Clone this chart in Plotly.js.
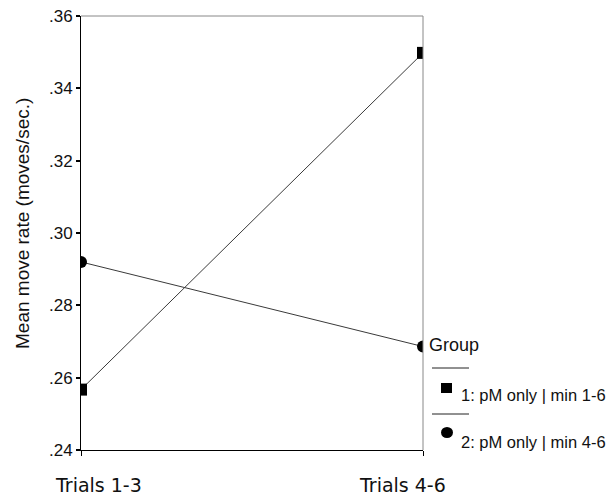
<!DOCTYPE html>
<html>
<head>
<meta charset="utf-8">
<script src="https://cdn.plot.ly/plotly-3.0.1.min.js"></script>
<style>html,body{margin:0;padding:0;background:#fff;}#chart{width:610px;height:495px;}</style>
</head>
<body>
<div id="chart"></div>
<script>
// ---- data ----
var categories = ["Trials 1-3", "Trials 4-6"];
var group1 = [0.2567, 0.3498];   // 1: pM only | min 1-6
var group2 = [0.2920, 0.2686];   // 2: pM only | min 4-6
var groupNames = ["1: pM only | min 1-6", "2: pM only | min 4-6"];
var yTickVals = [0.24, 0.26, 0.28, 0.30, 0.32, 0.34, 0.36];
var yTickText = [".24", ".26", ".28", ".30", ".32", ".34", ".36"];
var yTitle = "Mean move rate (moves/sec.)";
var legendTitle = "Group";

// ---- layout helpers (pixel -> paper) ----
var L = 81, R = 423, T = 16, B = 450;
function px(X) { return (X - L) / (R - L); }
function py(Y) { return (B - Y) / (B - T); }

var traces = [
  {x: categories, y: group1, type: "scatter", mode: "lines+markers", name: groupNames[0],
   line: {color: "#3a3a3a", width: 1}, marker: {symbol: "square", size: 12, color: "#000"}},
  {x: categories, y: group2, type: "scatter", mode: "lines+markers", name: groupNames[1],
   line: {color: "#3a3a3a", width: 1}, marker: {symbol: "circle", size: 12, color: "#000"}}
];

var xLabelPos = [98.5, 402];
var annotations = [];
categories.forEach(function (c, i) {
  annotations.push({text: c, xref: "paper", yref: "paper", x: px(xLabelPos[i]), y: py(485),
    xanchor: "center", yanchor: "middle", showarrow: false,
    font: {family: "DejaVu Sans, Verdana, sans-serif", size: 19, color: "#111"}});
});
annotations.push({text: yTitle, xref: "paper", yref: "paper", x: px(22), y: py(224),
  xanchor: "center", yanchor: "middle", textangle: -90, showarrow: false,
  font: {family: "Liberation Sans, Arial, sans-serif", size: 19, color: "#111"}});
annotations.push({text: legendTitle, xref: "paper", yref: "paper", x: px(427), y: py(345),
  xanchor: "left", yanchor: "middle", showarrow: false,
  font: {family: "Liberation Sans, Arial, sans-serif", size: 18, color: "#111"}});
annotations.push({text: groupNames[0], xref: "paper", yref: "paper", x: px(608), y: py(395),
  xanchor: "right", yanchor: "middle", showarrow: false,
  font: {family: "Liberation Sans, Arial, sans-serif", size: 16.5, color: "#111"}});
annotations.push({text: groupNames[1], xref: "paper", yref: "paper", x: px(608), y: py(442),
  xanchor: "right", yanchor: "middle", showarrow: false,
  font: {family: "Liberation Sans, Arial, sans-serif", size: 16.5, color: "#111"}});

var shapes = [
  // top & right frame (grey)
  {type: "line", xref: "paper", yref: "paper", x0: 0, x1: 1, y0: 1, y1: 1, line: {color: "#888", width: 1}},
  {type: "line", xref: "paper", yref: "paper", x0: 1, x1: 1, y0: 0, y1: 1, line: {color: "#888", width: 1}},
  // legend separators
  {type: "line", xref: "paper", yref: "paper", x0: px(432), x1: px(469), y0: py(368), y1: py(368), line: {color: "#222", width: 1}},
  {type: "line", xref: "paper", yref: "paper", x0: px(432), x1: px(469), y0: py(414), y1: py(414), line: {color: "#222", width: 1}},
  // legend symbols
  {type: "rect", xref: "paper", yref: "paper", x0: px(441), x1: px(452), y0: py(383), y1: py(393), fillcolor: "#000", line: {width: 0}},
  {type: "circle", xref: "paper", yref: "paper", x0: px(441), x1: px(453), y0: py(427), y1: py(438), fillcolor: "#000", line: {width: 0}}
];

var layout = {
  width: 610, height: 495,
  margin: {l: L, r: 610 - R, t: T, b: 495 - B, pad: 0},
  paper_bgcolor: "#fff", plot_bgcolor: "#fff",
  showlegend: false,
  xaxis: {type: "category", range: [0, 1], showgrid: false, zeroline: false,
    showline: true, linecolor: "#000", linewidth: 1,
    ticks: "outside", ticklen: 5, tickcolor: "#000", showticklabels: false},
  yaxis: {range: [0.24, 0.36], showgrid: false, zeroline: false,
    showline: true, linecolor: "#000", linewidth: 1,
    ticks: "outside", ticklen: 4, tickcolor: "#000", tickwidth: 2,
    tickvals: yTickVals, ticktext: yTickText,
    tickfont: {family: "Liberation Sans, Arial, sans-serif", size: 17, color: "#111"}},
  annotations: annotations,
  shapes: shapes
};

Plotly.newPlot("chart", traces, layout, {displayModeBar: false, staticPlot: true});
</script>
</body>
</html>
